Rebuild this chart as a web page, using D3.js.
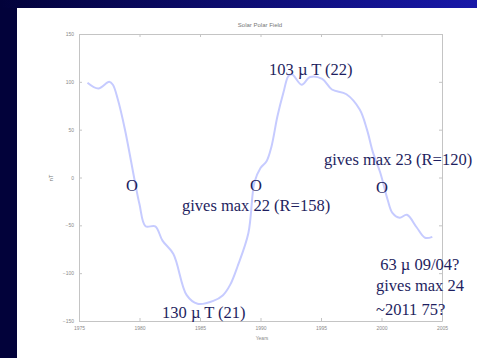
<!DOCTYPE html>
<html>
<head>
<meta charset="utf-8">
<title>Solar Polar Field</title>
<script src="https://d3js.org/d3.v7.min.js"></script>
<style>
  html, body { margin: 0; padding: 0; background: #02023a; }
  svg { display: block; }
</style>
</head>
<body>
<svg id="chart" width="477" height="358"></svg>
<script>
// polar field (nT)
var years  = [1975.7, 1976.6, 1977.5, 1977.8, 1978.2, 1978.8, 1979.6, 1980.0, 1980.5, 1981.3,
              1981.9, 1982.8, 1983.9, 1984.8, 1986.1, 1986.9, 1987.5, 1988.1, 1989.0, 1989.5,
              1990.0, 1990.5, 1990.9, 1991.4, 1991.9, 1992.3, 1992.6, 1993.4, 1994.1, 1995.1,
              1995.9, 1997.1, 1998.2, 1998.8, 1999.3, 1999.9, 2000.5, 2000.9, 2001.5, 2002.1,
              2002.9, 2003.6, 2004.2];
var field  = [99, 93, 100, 97, 82, 50, -3, -28, -51, -51,
              -66, -80, -123, -132, -129, -123, -112, -93, -58, -5,
              10, 17, 32, 64, 89, 106, 108, 97, 105, 103,
              92, 87, 71, 50, 26, 5, -23, -37, -42, -39,
              -52, -63, -62];
var xTicks = [1975, 1980, 1985, 1990, 1995, 2000, 2005];
var yTicks = [150, 100, 50, 0, -50, -100, -150];

// slide notes: [text, x, y]
var notes = [
  ["103 \u00b5 T (22)", 269, 75],
  ["gives max 23 (R=120)", 324, 165],
  ["O", 126, 191],
  ["O", 250, 191],
  ["O", 376, 193],
  ["gives max 22 (R=158)", 182, 211],
  ["130 \u00b5 T (21)", 162, 318],
  [" 63 \u00b5 09/04?", 376, 270],
  ["gives max 24", 376, 291],
  ["~2011 75?", 376, 315]
];

var svg = d3.select("#chart");

var grad = svg.append("defs").append("linearGradient")
    .attr("id", "band");
grad.append("stop").attr("offset", "0%").attr("stop-color", "#02023a");
grad.append("stop").attr("offset", "100%").attr("stop-color", "#1818a8");

svg.append("rect").attr("width", 477).attr("height", 358).attr("fill", "#02023a");
svg.append("rect").attr("width", 477).attr("height", 8).attr("fill", "url(#band)");
svg.append("rect").attr("x", 17).attr("y", 8).attr("width", 460).attr("height", 350).attr("fill", "#fff");

var x = d3.scaleLinear().domain([1975, 2005]).range([79, 442]);
var y = d3.scaleLinear().domain([-150, 150]).range([321, 34]);

var axisColor = "#c4c4c4", tickText = "#8a8a8a";

function styleAxis(g) {
  g.selectAll("path, line").attr("stroke", axisColor);
  g.selectAll("text").attr("fill", tickText).style("font", "5px Arial, sans-serif");
}

svg.append("g").attr("transform", "translate(0,321)")
    .call(d3.axisBottom(x).tickValues(xTicks).tickFormat(d3.format("d")).tickSizeInner(-3).tickSizeOuter(0).tickPadding(5))
    .call(styleAxis);
svg.append("g").attr("transform", "translate(0,34)")
    .call(d3.axisTop(x).tickValues(xTicks).tickFormat("").tickSizeInner(-3).tickSizeOuter(0))
    .call(styleAxis);
svg.append("g").attr("transform", "translate(79,0)")
    .call(d3.axisLeft(y).tickValues(yTicks).tickSizeInner(-3).tickSizeOuter(0).tickPadding(5))
    .call(styleAxis);
svg.append("g").attr("transform", "translate(442,0)")
    .call(d3.axisRight(y).tickValues(yTicks).tickFormat("").tickSizeInner(-3).tickSizeOuter(0))
    .call(styleAxis);

svg.append("text").attr("x", 260).attr("y", 27).attr("text-anchor", "middle")
    .attr("fill", "#777").style("font", "6px Arial, sans-serif").text("Solar Polar Field");
svg.append("text").attr("x", 262).attr("y", 340).attr("text-anchor", "middle")
    .attr("fill", tickText).style("font", "5px Arial, sans-serif").text("Years");
svg.append("text").attr("transform", "translate(53,178) rotate(-90)").attr("text-anchor", "middle")
    .attr("fill", "#777").style("font", "6px Arial, sans-serif").text("nT");

var line = d3.line()
    .x(function(d, i) { return x(years[i]); })
    .y(function(d) { return y(d); })
    .curve(d3.curveCatmullRom);

svg.append("path").datum(field)
    .attr("d", line)
    .attr("fill", "none")
    .attr("stroke", "#c6cbff")
    .attr("stroke-width", 2);

svg.selectAll("text.note").data(notes).enter().append("text")
    .attr("class", "note")
    .attr("x", function(d) { return d[1]; })
    .attr("y", function(d) { return d[2]; })
    .attr("fill", "#1e1e60")
    .style("font", "16.5px 'Liberation Serif', 'Times New Roman', serif")
    .style("white-space", "pre")
    .text(function(d) { return d[0]; });
</script>
</body>
</html>
